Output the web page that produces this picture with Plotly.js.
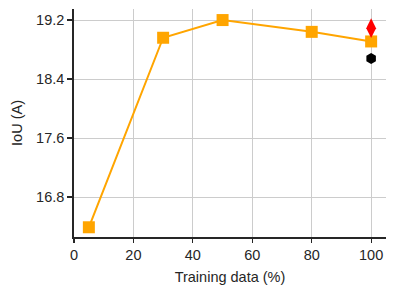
<!DOCTYPE html>
<html><head><meta charset="utf-8">
<script src="https://cdn.plot.ly/plotly-3.0.1.min.js"></script>
<style>html,body{margin:0;padding:0;background:#fff}</style>
</head><body><div id="chart" style="width:396px;height:296px"></div>
<script>
const trainingPct = [5, 30, 50, 80, 100];
const iouValues = [16.39, 18.96, 19.20, 19.04, 18.91];
const redX = [100];
const redY = [19.09];
const blackX = [100];
const blackY = [18.68];
const yTicks = [16.8, 17.6, 18.4, 19.2];
const xTicks = [0, 20, 40, 60, 80, 100];

const data = [
  {x: trainingPct, y: iouValues, type: 'scatter', mode: 'lines+markers',
   line: {color: '#FFA500', width: 2},
   marker: {symbol: 'square', size: 12, color: '#FFA500'}, cliponaxis: false},
  {x: redX, y: redY, type: 'scatter', mode: 'markers',
   marker: {symbol: 'diamond-tall', size: 14, color: '#FF0000'}},
  {x: blackX, y: blackY, type: 'scatter', mode: 'markers',
   marker: {symbol: 'hexagon', size: 11, color: '#000000'}}
];
const axisFont = {family: 'Liberation Sans, Arial, sans-serif', size: 14.5, color: '#262626'};
const layout = {
  width: 396, height: 296,
  margin: {l: 74, r: 10, t: 9, b: 59},
  showlegend: false,
  paper_bgcolor: '#fff', plot_bgcolor: '#fff',
  font: axisFont,
  xaxis: {range: [0, 105], tickvals: xTicks, ticktext: xTicks.map(String),
    showgrid: true, gridcolor: '#cccccc', gridwidth: 1,
    showline: true, linecolor: '#262626', linewidth: 1.8,
    ticks: 'outside', ticklen: 4, tickcolor: '#262626', tickwidth: 1.2,
    zeroline: false, tickfont: axisFont,
    title: {text: 'Training data (%)', font: axisFont, standoff: 10}},
  yaxis: {range: [16.258, 19.35], tickvals: yTicks, ticktext: yTicks.map(v => v.toFixed(1)),
    showgrid: true, gridcolor: '#cccccc', gridwidth: 1,
    showline: true, linecolor: '#262626', linewidth: 1.8,
    ticks: 'outside', ticklen: 5, tickcolor: '#262626', tickwidth: 1.2,
    zeroline: false, tickfont: axisFont,
    title: {text: 'IoU (A)', font: axisFont, standoff: 10}}
};
Plotly.newPlot('chart', data, layout, {displayModeBar: false, staticPlot: true});
</script></body></html>
